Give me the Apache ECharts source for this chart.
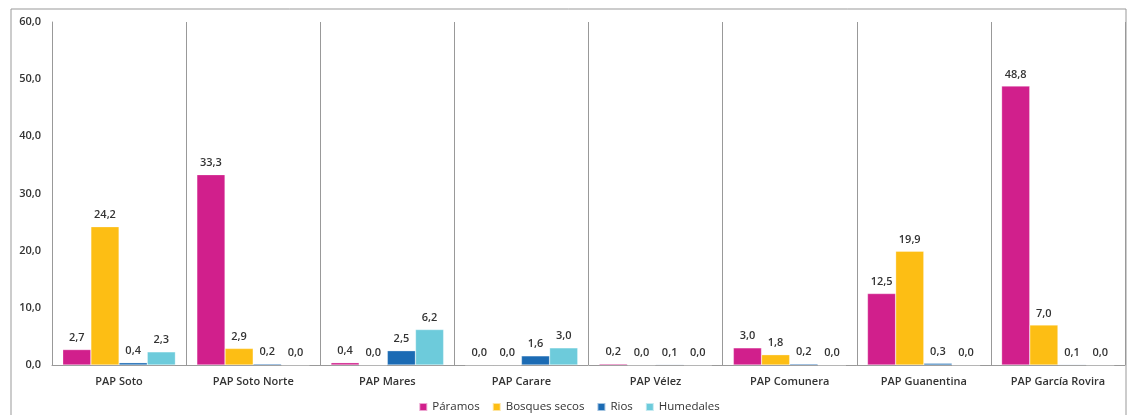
<!DOCTYPE html>
<html><head><meta charset="utf-8">
<script src="https://cdn.jsdelivr.net/npm/echarts@6/dist/echarts.min.js"></script>
<style>html,body{margin:0;padding:0;background:#fff}#c{width:1138px;height:415px}</style>
</head><body><div id="c"></div>
<script>
const categories = ["PAP Soto","PAP Soto Norte","PAP Mares","PAP Carare","PAP Vélez","PAP Comunera","PAP Guanentina","PAP García Rovira"];
const paramos = [2.7, 33.3, 0.4, 0.0, 0.2, 3.0, 12.5, 48.8];
const bosquesSecos = [24.2, 2.9, 0.0, 0.0, 0.0, 1.8, 19.9, 7.0];
const rios = [0.4, 0.2, 2.5, 1.6, 0.1, 0.2, 0.3, 0.1];
const humedales = [2.3, 0.0, 6.2, 3.0, 0.0, 0.0, 0.0, 0.0];
const yTicks = [0, 10, 20, 30, 40, 50, 60];

const fmt = v => Number(v).toFixed(1).replace('.', ',');
const FONT = "'Open Sans', sans-serif";
function mk(name, data, color) {
  return {
    name, type: 'bar', data, barGap: 0, barCategoryGap: '16%',
    itemStyle: { color, borderColor: 'rgba(255,255,255,0.6)', borderWidth: 0.5 },
    label: { show: true, position: 'top', distance: 6, formatter: p => fmt(p.value),
      color: '#333', fontSize: 11, fontWeight: 600, fontFamily: FONT }
  };
}
const chart = echarts.init(document.getElementById('c'));
chart.setOption({
  animation: false,
  graphic: [{ type: 'rect', shape: { x: 11, y: 9, width: 1115, height: 500 },
    style: { fill: 'none', stroke: '#999', lineWidth: 1 }, silent: true }],
  grid: { left: 52, right: 13, top: 22, bottom: 50 },
  legend: { top: 396, left: 'center', itemWidth: 8, itemHeight: 8, itemGap: 12, icon: 'rect',
    textStyle: { fontSize: 11.5, color: '#333', fontFamily: FONT } },
  xAxis: { type: 'category', data: categories,
    axisLine: { lineStyle: { color: '#999' } }, axisTick: { show: false },
    splitLine: { show: true, lineStyle: { color: '#999' } },
    axisLabel: { color: '#333', fontSize: 11, fontWeight: 600, fontFamily: FONT, margin: 11 } },
  yAxis: { type: 'value', min: yTicks[0], max: yTicks[yTicks.length - 1], interval: 10,
    axisLine: { show: true, lineStyle: { color: '#999' } }, axisTick: { show: false },
    splitLine: { show: false },
    axisLabel: { color: '#333', fontSize: 11, fontWeight: 600, fontFamily: FONT, margin: 11, formatter: v => fmt(v) } },
  series: [
    mk('Páramos', paramos, '#D11F8C'),
    mk('Bosques secos', bosquesSecos, '#FDBE14'),
    mk('Rios', rios, '#1B6BB4'),
    mk('Humedales', humedales, '#6DCBDB')
  ]
});
</script></body></html>
